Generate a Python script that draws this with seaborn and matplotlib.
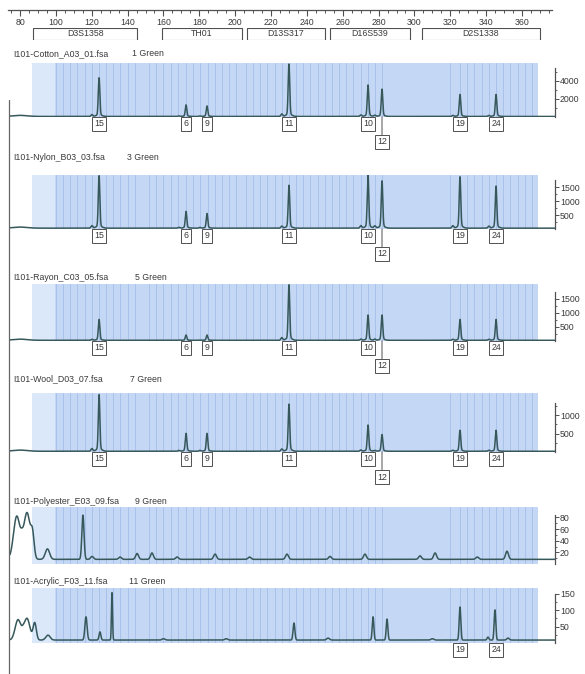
import numpy as np
import matplotlib
matplotlib.use("Agg")
import matplotlib.pyplot as plt
import matplotlib.ticker as mticker
from matplotlib.patches import Rectangle
from matplotlib.lines import Line2D
import seaborn as sns

# ── settings ──────────────────────────────────────────────────────────────────
W, H = 585, 674
sns.set_theme(style="white")
plt.rcParams["font.family"] = ["Liberation Sans", "DejaVu Sans"]

TRACE_C = "#36585b"
SHADE_C = "#c4d7f4"
SHADE_LIGHT = "#dae8fa"
BIN_C = "#a9c2ec"
INK = "#3a3a3a"
EDGE = "#505050"
FS = 6.3

# ── data ──────────────────────────────────────────────────────────────────────
ruler_major = [80, 100, 120, 140, 160, 180, 200, 220, 240, 260, 280, 300, 320, 340, 360]

marker_names = ["D3S1358", "TH01", "D13S317", "D16S539", "D2S1338"]
marker_lo = [87.3, 159.2, 206.6, 252.9, 304.2]
marker_hi = [145.3, 203.8, 250.1, 297.5, 370.0]

bin_bp = [100, 104, 108, 112, 116, 120, 124, 128, 132, 136, 140, 144,
          152, 156, 160, 164, 168, 172.6, 176.6, 180.6, 184.6, 188.6, 192.6, 196.6, 200.6,
          206, 210, 214, 218, 222, 226, 230, 234, 238, 242, 246,
          250, 254, 258, 262, 266, 270, 274, 278, 282,
          320, 325.4, 329.4, 333.4, 337.4, 341.4, 345.5, 349.5, 353.5, 357.5, 361.5, 365.5]

allele_bp = [124.1, 172.6, 184.3, 230.0, 274.1, 281.9, 325.4, 345.5]
allele_labels = ["15", "6", "9", "11", "10", "12", "19", "24"]

cotton_rfu = [4100, 1220, 1110, 5550, 3330, 2890, 2330, 2330]
nylon_rfu = [1790, 570, 500, 1460, 1820, 1610, 1750, 1430]
rayon_rfu = [710, 180, 180, 1890, 860, 860, 710, 710]
wool_rfu = [1460, 460, 460, 1215, 675, 430, 540, 540]

# polyester / acrylic: no clean profile, peaks read one by one
poly_bp = [78.2, 81.0, 83.9, 87.0, 95.3, 115.1, 120.2, 135.8, 145.3, 153.6, 167.6,
           188.8, 208.0, 228.9, 252.9, 272.4, 303.1, 311.5, 335.0, 351.6]
poly_rfu = [74, 10, 80, 35, 18, 76, 5, 4, 10, 11, 4, 9, 4, 9, 5, 9, 6, 11, 4, 14]
poly_sd = [1.8, 0.8, 1.8, 0.9, 1.2, 0.6, 0.8, 0.8, 0.8, 0.8, 0.8,
           0.8, 0.8, 0.8, 0.8, 0.8, 0.8, 0.8, 0.8, 0.8]

acry_bp = [78.9, 81.7, 83.9, 88.2, 95.6, 116.8, 124.6, 131.3, 160.0, 195.0, 232.8,
           251.8, 276.9, 284.7, 310.0, 325.4, 341.0, 344.9, 352.2]
acry_rfu = [62, 8, 66, 52, 15, 71, 25, 145, 4, 4, 52, 6, 71, 64, 4, 101, 9, 92, 6]
acry_sd = [1.6, 0.8, 1.6, 0.9, 1.2, 0.6, 0.5, 0.3, 0.8, 0.8, 0.5,
           0.8, 0.45, 0.45, 0.8, 0.45, 0.5, 0.45, 0.7]

file_names = ["I101-Cotton_A03_01.fsa", "I101-Nylon_B03_03.fsa", "I101-Rayon_C03_05.fsa",
              "I101-Wool_D03_07.fsa", "I101-Polyester_E03_09.fsa", "I101-Acrylic_F03_11.fsa"]
dye_names = ["1 Green", "3 Green", "5 Green", "7 Green", "9 Green", "11 Green"]

y_major = [[2000, 4000], [500, 1000, 1500], [500, 1000, 1500], [500, 1000],
           [20, 40, 60, 80], [50, 100, 150]]
y_minor = [[1000, 3000, 5000], [250, 750, 1250], [250, 750, 1250], [250, 750, 1250],
           [10, 30, 50, 70], [25, 75, 125]]
y_spine_top = [5400, 1750, 1750, 1330, 85, 150]
y_top = [6000, 1930, 2035, 1595, 98, 168]
base_level = [60, 30, 25, 20, 8, 9]

# ── layout (pixels) ───────────────────────────────────────────────────────────
X_LEFT, X_RIGHT = 10, 555
BP_LO = 80 + (X_LEFT - 20) / 1.793
BP_HI = 80 + (X_RIGHT - 20) / 1.793
SHADE_LO, SHADE_HI = 86.7, 369.0
shade_top_px = [63, 175, 284, 393, 507, 588]
zero_px = [117, 229, 341, 452, 564, 643]
title_px = [54, 158, 277, 379, 501, 582]
dye_x_px = [132, 127, 135, 130, 135, 129]


def rect(x0, y0, x1, y1):
    return [x0 / W, 1 - y1 / H, (x1 - x0) / W, (y1 - y0) / H]


def gauss_sum(x, base, centres, heights, sds):
    y = np.full_like(x, float(base))
    for m, h, s in zip(centres, heights, sds):
        y += h * np.exp(-0.5 * ((x - m) / s) ** 2)
    return y


def allele_trace(x, base, heights, scale):
    c, h, s = [], [], []
    for m, v in zip(allele_bp, heights):
        c += [m, m, m - 4]
        h += [v, 0.05 * v, 0.05 * v]
        s += [0.42, 1.5, 0.5]
    c.append(80.0); h.append(0.02 * scale); s.append(4.0)
    return gauss_sum(x, base, c, h, s)


fig = plt.figure(figsize=(W / 100, H / 100), dpi=100)
fig.patch.set_facecolor("white")

# ── size ruler ────────────────────────────────────────────────────────────────
ax_r = fig.add_axes(rect(X_LEFT - 2, 9, X_RIGHT - 3, 10))
ax_r.set_xlim(BP_LO - 2 / 1.793, BP_LO + (X_RIGHT - 3 - X_LEFT) / 1.793)
ax_r.set_yticks([])
for s in ["top", "left", "right"]:
    ax_r.spines[s].set_visible(False)
ax_r.spines["bottom"].set_color(EDGE)
ax_r.spines["bottom"].set_linewidth(0.9)
ax_r.xaxis.set_major_locator(mticker.FixedLocator(ruler_major))
ax_r.xaxis.set_minor_locator(mticker.MultipleLocator(5))
ax_r.tick_params(axis="x", which="major", direction="out", length=4.5, width=0.8,
                 color=EDGE, labelsize=FS, labelcolor=INK, pad=1.2, bottom=True)
ax_r.tick_params(axis="x", which="minor", direction="out", length=2.2, width=0.7,
                 color=EDGE, bottom=True)
ax_r.set_facecolor("none")

# ── marker boxes ──────────────────────────────────────────────────────────────
ax_m = fig.add_axes(rect(X_LEFT, 28, X_RIGHT, 40))
ax_m.set_xlim(BP_LO, BP_HI)
ax_m.set_ylim(0, 1)
ax_m.axis("off")
for name, lo, hi in zip(marker_names, marker_lo, marker_hi):
    ax_m.add_patch(Rectangle((lo, 0), hi - lo, 1, fill=False, ec=EDGE, lw=0.8))
    ax_m.text((lo + hi) / 2, 0.5, name, ha="center", va="center", fontsize=FS, color=INK)

# ── electropherogram panels ───────────────────────────────────────────────────
x = np.linspace(BP_LO, BP_HI, 6000)
panel_rfu = [cotton_rfu, nylon_rfu, rayon_rfu, wool_rfu]

for i in range(6):
    ax = fig.add_axes(rect(X_LEFT, shade_top_px[i], X_RIGHT, zero_px[i]))
    if i < 4:
        y = allele_trace(x, base_level[i], panel_rfu[i], y_top[i])
    elif i == 4:
        y = gauss_sum(x, base_level[i], poly_bp, poly_rfu, poly_sd)
    else:
        y = gauss_sum(x, base_level[i], acry_bp, acry_rfu, acry_sd)

    ax.axvspan(SHADE_LO, SHADE_HI, color=SHADE_C, lw=0, zorder=0)
    ax.axvspan(SHADE_LO, 99.5, color=SHADE_LIGHT, lw=0, zorder=0)
    for b in bin_bp:
        ax.axvline(b, color=BIN_C, lw=0.7, zorder=0.5)

    sns.lineplot(x=x, y=y, ax=ax, color=TRACE_C, linewidth=1.1, zorder=3)
    ax.set_xlim(BP_LO, BP_HI)
    ax.set_ylim(0, y_top[i])
    ax.set_xlabel("")
    ax.set_ylabel("")
    ax.set_xticks([])
    ax.set_facecolor("none")
    for s in ["top", "left", "bottom"]:
        ax.spines[s].set_visible(False)
    ax.spines["right"].set_bounds(0, y_spine_top[i])
    ax.spines["right"].set_color(EDGE)
    ax.spines["right"].set_linewidth(0.9)
    ax.yaxis.set_ticks_position("right")
    ax.yaxis.set_major_locator(mticker.FixedLocator(y_major[i]))
    ax.yaxis.set_minor_locator(mticker.FixedLocator(y_minor[i]))
    ax.tick_params(axis="y", which="major", direction="out", length=2.8, width=0.7,
                   color=EDGE, labelsize=FS, labelcolor=INK, pad=0.8, right=True)
    ax.tick_params(axis="y", which="minor", direction="out", length=1.6, width=0.6,
                   color=EDGE, right=True)

    # allele call boxes
    if i < 4:
        calls = list(zip(allele_bp, allele_labels))
    elif i == 5:
        calls = [(325.4, "19"), (345.5, "24")]
    else:
        calls = []
    for bp, lab in calls:
        low = lab == "12"
        ax.annotate(lab, xy=(bp, 0), xytext=(0, -18 if low else -5.0),
                    textcoords="offset points", ha="center", va="center",
                    fontsize=FS, color=INK, annotation_clip=False,
                    bbox=dict(boxstyle="square,pad=0.28", fc="white", ec=EDGE, lw=0.7),
                    arrowprops=dict(arrowstyle="-", color=EDGE, lw=0.7,
                                    shrinkA=0, shrinkB=0) if low else None)

    fig.text(13 / W, 1 - title_px[i] / H, file_names[i], fontsize=FS, color=INK, va="center")
    fig.text(dye_x_px[i] / W, 1 - title_px[i] / H, dye_names[i], fontsize=FS, color=INK, va="center")

# left page border
fig.add_artist(Line2D([9 / W, 9 / W], [1 - 100 / H, 0], color="#666666", lw=0.9))

fig.savefig("out.png", dpi=100, facecolor="white")
